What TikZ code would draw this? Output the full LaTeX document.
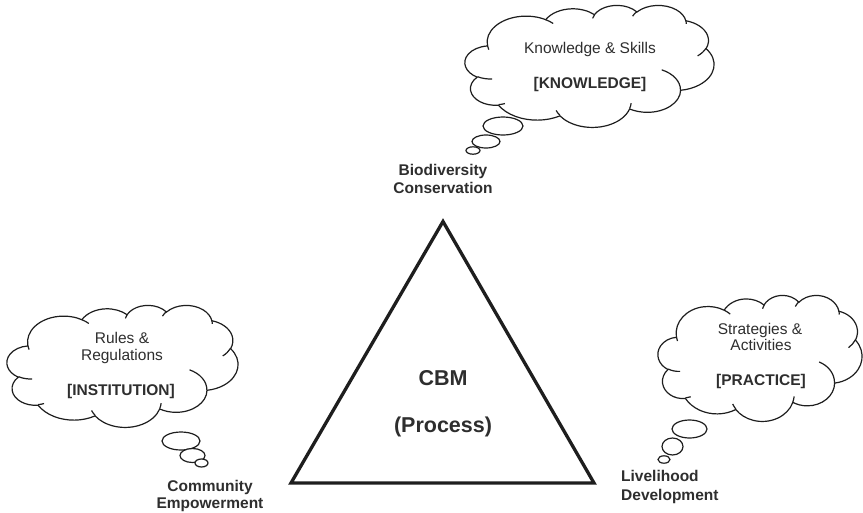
\documentclass[tikz,border=0pt]{standalone}
\usepackage{fontspec}
\setmainfont{Liberation Sans}
\definecolor{ink}{HTML}{1E1E1E}
\definecolor{txt}{HTML}{2E2E2E}
\newcommand\ooarc[4]{arc[x radius=#1, y radius=#2, start angle={atan2(#1*sin(#3),#2*cos(#3))}, delta angle={mod(atan2(#1*sin(#3+#4),#2*cos(#3+#4))-atan2(#1*sin(#3),#2*cos(#3))+720,360)}]}
\newcommand\drawcloud[4]{%
  \begin{scope}[shift={(#1,#2)}, xscale=#3/432, yscale=#4/432]
  \draw[cloudline, fill=white] (39.00,143.70)
    \ooarc{67.53}{91.90}{-190.48748}{123.78053}
    \ooarc{53.33}{72.67}{-144.10238}{89.94523}
    \ooarc{43.65}{59.45}{-145.80792}{99.72302}
    \ooarc{48.57}{65.95}{-130.98607}{117.24173}
    \ooarc{53.33}{72.73}{-78.70888}{109.02692}
    \ooarc{67.75}{92.20}{-46.26725}{130.269}
    \ooarc{57.85}{78.67}{0.62502}{114.03333}
    \ooarc{67.52}{92.15}{22.4516}{115.17255}
    \ooarc{77.20}{105.43}{66.24263}{75.71102}
    \ooarc{43.60}{59.18}{-274.94208}{146.73557}
    \ooarc{43.45}{59.45}{-246.8285}{152.51885}
    -- cycle;
  \draw[cloudline] (46.93,261.77) \ooarc{43.45}{59.45}{86.742}{26.4295}
    (69.28,348.99) \ooarc{43.60}{59.18}{73.61047}{11.44747}
    (164.78,390.90) \ooarc{67.52}{92.15}{137.62415}{14.0811}
    (288.27,347.51) \ooarc{67.52}{92.15}{6.45327}{15.99835}
    (341.29,229.54) \ooarc{57.85}{78.67}{-70.29235}{70.91737}
    (417.98,153.54) \ooarc{53.33}{72.73}{30.31803}{27.7515}
    (383.24,54.26) \ooarc{48.57}{65.95}{-13.74433}{14.8589}
    (290.78,39.52) \ooarc{48.57}{65.95}{-149.18145}{18.19537}
    (221.41,47.20) \ooarc{43.65}{59.45}{-163.49427}{17.68635}
    (140.00,51.92) \ooarc{67.53}{91.90}{-66.70695}{12.31935}
    (41.27,157.89) \ooarc{67.53}{91.90}{157.65435}{11.85817};
  \end{scope}}
\tikzset{
  cloudline/.style={draw=ink, line width=1.2pt},
  bubble/.style={draw=ink, line width=1.2pt, fill=white},
  tri/.style={draw=ink, line width=3.3pt, line join=miter},
  ctext/.style={inner sep=0pt, text=txt, font=\fontsize{15.5}{18}\selectfont},
  ctextb/.style={inner sep=0pt, text=txt, font=\fontsize{15.5}{18}\selectfont\bfseries},
  lab/.style={inner sep=0pt, text=txt, font=\fontsize{15.5}{18}\selectfont\bfseries},
  big/.style={inner sep=0pt, text=txt, font=\fontsize{21.5}{25}\selectfont\bfseries}
}
\begin{document}
\begin{tikzpicture}[x=1pt, y=1pt, yscale=-1]
\useasboundingbox[fill=white] (0,0) rectangle (863,512);
% clouds
\drawcloud{465}{5}{249}{122}
\drawcloud{7}{305}{231}{122}
\drawcloud{658}{295}{204}{126}
% thought bubbles
\draw[bubble] (503,126) ellipse [x radius=20, y radius=9];
\draw[bubble] (486,141.5) ellipse [x radius=14, y radius=6.5];
\draw[bubble] (473,150.5) ellipse [x radius=7, y radius=3.7];
\draw[bubble] (181,441) ellipse [x radius=19, y radius=9];
\draw[bubble] (192.5,455.5) ellipse [x radius=12.5, y radius=7];
\draw[bubble] (201.5,463) ellipse [x radius=6.5, y radius=4];
\draw[bubble] (689.5,429) ellipse [x radius=17.5, y radius=9];
\draw[bubble] (672.5,446.5) ellipse [x radius=10.5, y radius=8.5];
\draw[bubble] (664,459.5) ellipse [x radius=6, y radius=3.7];
% triangle
\coordinate (apex) at (443,221.5);
\coordinate (bl) at (291,483);
\coordinate (br) at (594,483);
\draw[tri] (apex) -- (bl) -- (br) -- cycle;
% cloud texts
\node[ctext, anchor=base] (k1) at (590,53) {Knowledge \& Skills};
\node[ctextb, anchor=base] (k2) at (590,88) {[KNOWLEDGE]};
\node[ctext, anchor=base] (r1) at (122,343) {Rules \&};
\node[ctext, anchor=base] (r2) at (122,360) {Regulations};
\node[ctextb, anchor=base] (r3) at (121,395) {[INSTITUTION]};
\node[ctext, anchor=base] (s1) at (760,334) {Strategies \&};
\node[ctext, anchor=base] (s2) at (761,350) {Activities};
\node[ctextb, anchor=base] (s3) at (761,385) {[PRACTICE]};
% labels
\node[lab, anchor=base] (bio1) at (443,175) {Biodiversity};
\node[lab, anchor=base] (bio2) at (443,193) {Conservation};
\node[lab, anchor=base] (com1) at (210,491) {Community};
\node[lab, anchor=base] (com2) at (210,508) {Empowerment};
\node[lab, anchor=base west] (liv1) at (621,481) {Livelihood};
\node[lab, anchor=base west] (liv2) at (621,500) {Development};
% centre
\node[big, anchor=base] (cbm) at (443,385) {CBM};
\node[big, anchor=base] (proc) at (443,432) {(Process)};
\end{tikzpicture}
\end{document}
